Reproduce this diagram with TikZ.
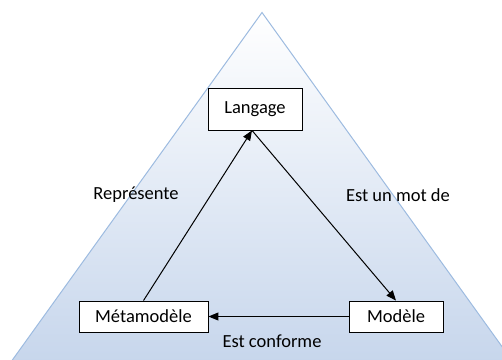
\documentclass[tikz,border=0pt]{standalone}
\usepackage{fontspec}
\setmainfont{Carlito}
\usetikzlibrary{arrows.meta}
\definecolor{pyrline}{HTML}{9DBBE0}
\definecolor{pyrbottom}{HTML}{C4D4EB}
\tikzset{
  concept/.style={draw=black, line width=0.9pt, fill=white, inner sep=0pt,
    font=\fontsize{18.5}{20}\selectfont},
  rel/.style={draw=black, line width=1pt, -{Triangle[length=10pt,width=8pt]}},
  rellabel/.style={font=\fontsize{18.5}{20}\selectfont, inner sep=0pt}
}
\begin{document}
\begin{tikzpicture}[x=1pt,y=-1pt]
\useasboundingbox (0,0) rectangle (502,359);
\clip (0,0) rectangle (502,359);
% shaded pyramid in the background
\shade[top color=white, bottom color=pyrbottom, middle color=white!50!pyrbottom]
  (262,12.5) -- (526,380) -- (-2,380) -- cycle;
\draw[pyrline, line width=1pt] (-2,380) -- (262,12.5) -- (526,380);
% concepts
\node[concept, minimum width=94pt, minimum height=42pt] (lang) at (255,109) {Langage};
\node[concept, minimum width=129pt, minimum height=31pt] (meta) at (143.5,316.5) {Métamodèle};
\node[concept, minimum width=94pt, minimum height=31pt] (mod) at (396,316.5) {Modèle};
% relations
\coordinate (top) at ([xshift=-3pt]lang.south);
\draw[rel] (meta.north) -- (top);
\draw[rel] (top) -- (mod.north);
\draw[rel] (mod.west) -- (meta.east);
% relation labels
\node[rellabel] (l1) at (136,195) {Représente};
\node[rellabel] (l2) at (398,195) {Est un mot de};
\node[rellabel] (l3) at (272,341) {Est conforme};
\end{tikzpicture}
\end{document}
